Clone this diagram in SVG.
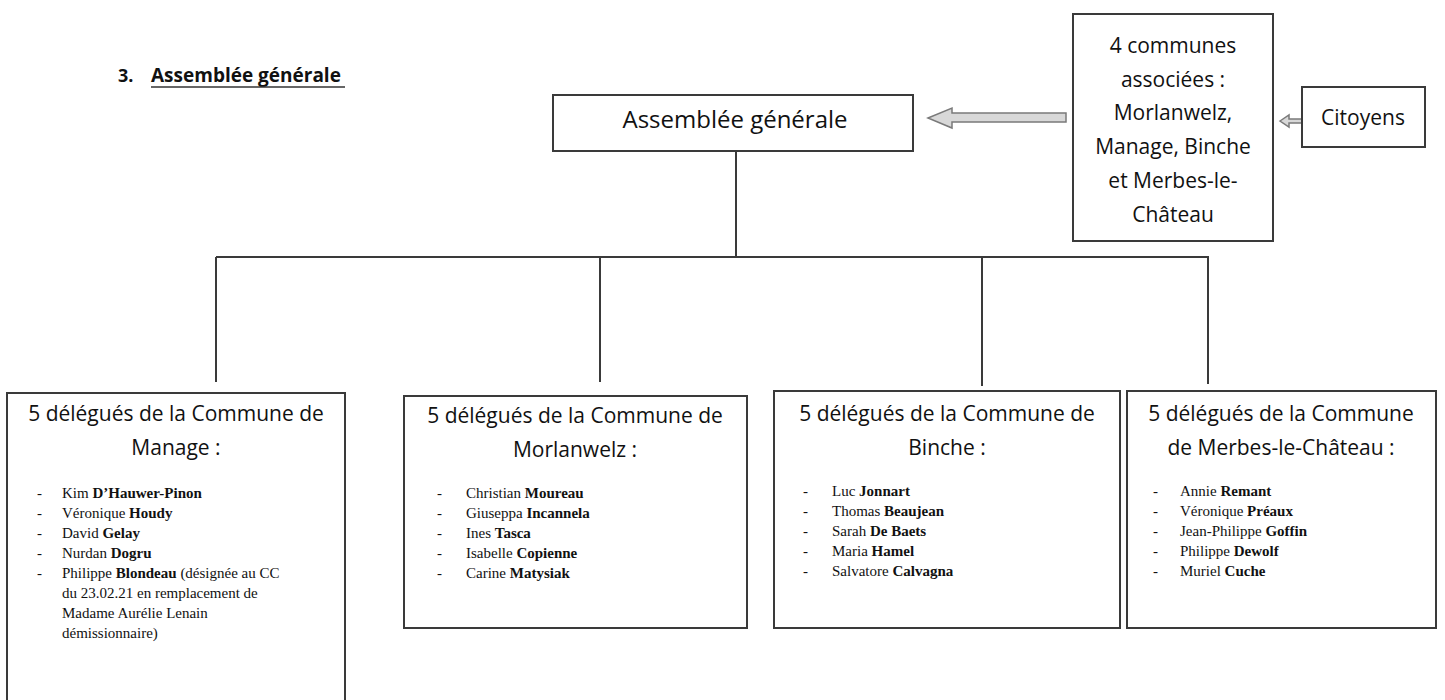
<svg xmlns="http://www.w3.org/2000/svg" width="1445" height="700" viewBox="0 0 1445 700">
<style>
.box{fill:#fff;stroke:#3a3a3a;stroke-width:2}
.ln{fill:none;stroke:#3a3a3a;stroke-width:2}
.arr{fill:#d8d8d8;stroke:#7a7a7a;stroke-width:1.5}
.t{font-family:"Open Sans","DejaVu Sans",sans-serif;fill:#111;text-anchor:middle}
.n{font-family:"Liberation Serif","Times New Roman",serif;font-size:15px;fill:#111}
.b{font-weight:bold}
</style>
<rect width="1445" height="700" fill="#fff"/>
<g id="title">
<text x="118" y="82" font-family="'Open Sans',sans-serif" font-weight="bold" font-size="18" fill="#111">3.</text>
<text x="151" y="82" font-family="'Open Sans',sans-serif" font-weight="bold" font-size="19" fill="#111">Assemblée générale</text>
<line x1="151" y1="87" x2="345" y2="87" stroke="#333" stroke-width="1.5"/>
</g>
<g id="connectors">
<path class="ln" d="M736 151 V257 M216 257 H1209 M216 257 V382 M600 257 V382 M982 257 V386 M1208 257 V384"/>
<polygon class="arr" points="928,118 952,108 952,113 1066,113 1066,122 952,122 952,128"/>
<polygon class="arr" points="1280,121 1289,115 1289,119 1302,119 1302,123 1289,123 1289,127"/>
</g>
<g id="assemblee">
<rect class="box" x="553" y="95" width="360" height="56"/>
<text class="t" x="735" y="128" font-size="24">Assemblée générale</text>
</g>
<g id="communes">
<rect class="box" x="1073" y="14" width="200" height="227"/>
<text class="t" font-size="21"><tspan x="1173" y="53">4 communes</tspan><tspan x="1173" y="87">associées :</tspan><tspan x="1173" y="120">Morlanwelz,</tspan><tspan x="1173" y="154">Manage, Binche</tspan><tspan x="1173" y="188">et Merbes-le-</tspan><tspan x="1173" y="222">Château</tspan></text>
</g>
<g id="citoyens">
<rect class="box" x="1302" y="87" width="123" height="60"/>
<text class="t" x="1363" y="125" font-size="21">Citoyens</text>
</g>
<g id="manage">
<rect class="box" x="7" y="393" width="338" height="320"/>
<text class="t" font-size="21"><tspan x="176" y="421">5 délégués de la Commune de</tspan><tspan x="176" y="455">Manage :</tspan></text>
<g class="n">
<text x="37" y="498">-</text><text x="62" y="498">Kim <tspan class="b">D’Hauwer-Pinon</tspan></text>
<text x="37" y="518">-</text><text x="62" y="518">Véronique <tspan class="b">Houdy</tspan></text>
<text x="37" y="538">-</text><text x="62" y="538">David <tspan class="b">Gelay</tspan></text>
<text x="37" y="558">-</text><text x="62" y="558">Nurdan <tspan class="b">Dogru</tspan></text>
<text x="37" y="578">-</text><text x="62" y="578">Philippe <tspan class="b">Blondeau</tspan> (désignée au CC</text>
<text x="62" y="598">du 23.02.21 en remplacement de</text>
<text x="62" y="618">Madame Aurélie Lenain</text>
<text x="62" y="638">démissionnaire)</text>
</g>
</g>
<g id="morlanwelz">
<rect class="box" x="404" y="396" width="343" height="232"/>
<text class="t" font-size="21"><tspan x="575" y="423">5 délégués de la Commune de</tspan><tspan x="575" y="457">Morlanwelz :</tspan></text>
<g class="n">
<text x="437" y="498">-</text><text x="466" y="498">Christian <tspan class="b">Moureau</tspan></text>
<text x="437" y="518">-</text><text x="466" y="518">Giuseppa <tspan class="b">Incannela</tspan></text>
<text x="437" y="538">-</text><text x="466" y="538">Ines <tspan class="b">Tasca</tspan></text>
<text x="437" y="558">-</text><text x="466" y="558">Isabelle <tspan class="b">Copienne</tspan></text>
<text x="437" y="578">-</text><text x="466" y="578">Carine <tspan class="b">Matysiak</tspan></text>
</g>
</g>
<g id="binche">
<rect class="box" x="774" y="391" width="346" height="237"/>
<text class="t" font-size="21"><tspan x="947" y="421">5 délégués de la Commune de</tspan><tspan x="947" y="455">Binche :</tspan></text>
<g class="n">
<text x="803" y="496">-</text><text x="832" y="496">Luc <tspan class="b">Jonnart</tspan></text>
<text x="803" y="516">-</text><text x="832" y="516">Thomas <tspan class="b">Beaujean</tspan></text>
<text x="803" y="536">-</text><text x="832" y="536">Sarah <tspan class="b">De Baets</tspan></text>
<text x="803" y="556">-</text><text x="832" y="556">Maria <tspan class="b">Hamel</tspan></text>
<text x="803" y="576">-</text><text x="832" y="576">Salvatore <tspan class="b">Calvagna</tspan></text>
</g>
</g>
<g id="merbes">
<rect class="box" x="1127" y="391" width="309" height="237"/>
<text class="t" font-size="21"><tspan x="1281" y="421">5 délégués de la Commune</tspan><tspan x="1281" y="455">de Merbes-le-Château :</tspan></text>
<g class="n">
<text x="1153" y="496">-</text><text x="1180" y="496">Annie <tspan class="b">Remant</tspan></text>
<text x="1153" y="516">-</text><text x="1180" y="516">Véronique <tspan class="b">Préaux</tspan></text>
<text x="1153" y="536">-</text><text x="1180" y="536">Jean-Philippe <tspan class="b">Goffin</tspan></text>
<text x="1153" y="556">-</text><text x="1180" y="556">Philippe <tspan class="b">Dewolf</tspan></text>
<text x="1153" y="576">-</text><text x="1180" y="576">Muriel <tspan class="b">Cuche</tspan></text>
</g>
</g>
</svg>
